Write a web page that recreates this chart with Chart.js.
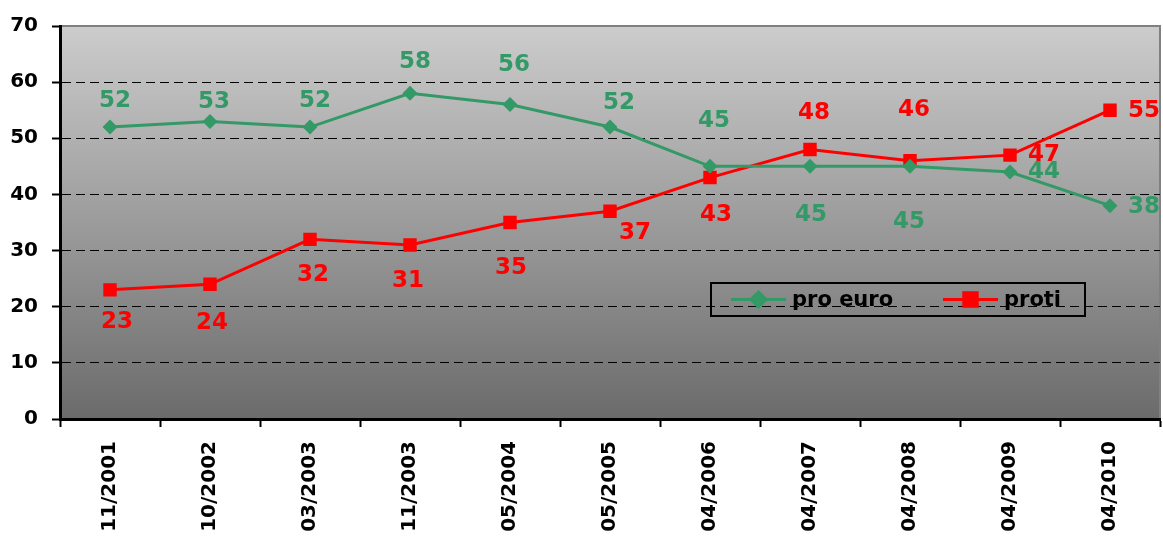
<!DOCTYPE html>
<html>
<head>
<meta charset="utf-8">
<script src="https://cdn.jsdelivr.net/npm/chart.js@4/dist/chart.umd.min.js"></script>
<style>
  html, body { margin: 0; padding: 0; background: #fff; }
  canvas { display: block; }
</style>
</head>
<body>
<canvas id="chart" width="1163" height="541"></canvas>
<script>
"use strict";

var categories = ["11/2001", "10/2002", "03/2003", "11/2003", "05/2004", "05/2005",
  "04/2006", "04/2007", "04/2008", "04/2009", "04/2010"];
var proEuro = [52, 53, 52, 58, 56, 52, 45, 45, 45, 44, 38];
var proti = [23, 24, 32, 31, 35, 37, 43, 48, 46, 47, 55];
var yTicks = [0, 10, 20, 30, 40, 50, 60, 70];

// where each value label sits relative to its point (dx, dy in px)
var proEuroLabelShift = [[5, -26], [4, -19], [5, -26], [5, -31], [4, -40], [9, -24],
  [4, -45], [1, 49], [-1, 56], [34, 0], [34, 1]];
var protiLabelShift = [[7, 32], [2, 39], [3, 36], [-2, 36], [1, 46], [25, 22],
  [6, 37], [4, -36], [4, -51], [34, 0], [34, 1]];

var FONT = "'DejaVu Sans', Verdana, sans-serif";
var GREEN = "#339966";
var RED = "#ff0000";

/**
 * Gradient plot area with grey frame on top / right
 */
var plotBackground = {
  id: "plotBackground",
  beforeDraw: function (chart) {
    var a = chart.chartArea;
    var ctx = chart.ctx;
    var g = ctx.createLinearGradient(0, a.top, 0, a.bottom);
    g.addColorStop(0, "#cccccc");
    g.addColorStop(1, "#6b6b6b");
    ctx.save();
    ctx.fillStyle = g;
    ctx.fillRect(a.left, a.top, a.right - a.left, a.bottom - a.top);
    ctx.strokeStyle = "#808080";
    ctx.lineWidth = 2;
    ctx.beginPath();
    ctx.moveTo(a.left, a.top);
    ctx.lineTo(a.right, a.top);
    ctx.lineTo(a.right, a.bottom);
    ctx.stroke();
    ctx.restore();
  },
};

/**
 * Value labels next to the points
 */
var valueLabels = {
  id: "valueLabels",
  afterDatasetsDraw: function (chart) {
    var ctx = chart.ctx;
    ctx.save();
    ctx.font = "bold 23px " + FONT;
    ctx.textAlign = "center";
    ctx.textBaseline = "middle";
    chart.data.datasets.forEach(function (ds, i) {
      var meta = chart.getDatasetMeta(i);
      ctx.fillStyle = ds.borderColor;
      meta.data.forEach(function (pt, j) {
        var s = ds.labelShift[j];
        ctx.fillText(String(ds.data[j]), pt.x + s[0], pt.y + s[1]);
      });
    });
    ctx.restore();
  },
};

/**
 * Boxed legend inside the plot area
 */
var boxLegend = {
  id: "boxLegend",
  afterDraw: function (chart) {
    var a = chart.chartArea;
    var ctx = chart.ctx;
    var x0 = a.left + 651, y0 = a.top + 257, w = 374, h = 33;
    ctx.save();
    ctx.strokeStyle = "#000";
    ctx.lineWidth = 2;
    ctx.strokeRect(x0, y0, w, h);
    ctx.font = "bold 21px " + FONT;
    ctx.textBaseline = "middle";
    ctx.textAlign = "left";
    var cy = y0 + h / 2;
    var starts = [x0 + 20, x0 + 232];
    chart.data.datasets.forEach(function (ds, i) {
      var sx = starts[i];
      ctx.strokeStyle = ds.borderColor;
      ctx.lineWidth = 3;
      ctx.beginPath();
      ctx.moveTo(sx, cy);
      ctx.lineTo(sx + 55, cy);
      ctx.stroke();
      Chart.helpers.drawPoint(ctx, {
        pointStyle: ds.pointStyle,
        radius: ds.pointRadius,
        borderWidth: 1,
        rotation: 0,
      }, sx + 27.5, cy);
      ctx.fillStyle = ds.borderColor;
      ctx.fill();
      ctx.fillStyle = "#000";
      ctx.fillText(ds.label, sx + 61, cy + 1);
    });
    ctx.restore();
  },
};

var ctx = document.getElementById("chart").getContext("2d");
var chart = new Chart(ctx, {
  type: "line",
  data: {
    labels: categories,
    datasets: [
      {
        label: "pro euro",
        data: proEuro,
        labelShift: proEuroLabelShift,
        borderColor: GREEN,
        backgroundColor: GREEN,
        borderWidth: 3,
        pointStyle: "rectRot",
        pointRadius: 7.5,
        pointBorderWidth: 0,
        tension: 0,
        fill: false,
      },
      {
        label: "proti",
        data: proti,
        labelShift: protiLabelShift,
        borderColor: RED,
        backgroundColor: RED,
        borderWidth: 3,
        pointStyle: "rect",
        pointRadius: 9.5,
        pointBorderWidth: 0,
        tension: 0,
        fill: false,
      },
    ],
  },
  options: {
    responsive: false,
    animation: false,
    layout: { autoPadding: false, padding: { top: 26, right: 3, left: 0, bottom: 0 } },
    plugins: {
      legend: { display: false },
      tooltip: { enabled: false },
    },
    scales: {
      x: {
        type: "category",
        offset: true,
        afterFit: function (scale) {
          scale.height = 122;
          scale.paddingLeft = 0;
          scale.paddingRight = 0;
        },
        border: { color: "#000", width: 3 },
        grid: {
          offset: true,
          drawOnChartArea: false,
          drawTicks: true,
          tickLength: 8,
          tickColor: "#000",
          tickWidth: 2,
        },
        ticks: {
          autoSkip: false,
          minRotation: 90,
          maxRotation: 90,
          padding: 14,
          color: "#000",
          font: { family: FONT, size: 20, weight: "bold" },
        },
      },
      y: {
        min: 0,
        max: 70,
        afterFit: function (scale) { scale.width = 60; },
        afterBuildTicks: function (scale) {
          scale.ticks = yTicks.map(function (v) { return { value: v }; });
        },
        border: { color: "#000", width: 3, dash: [9, 5] },
        grid: {
          color: function (c) {
            var v = c.tick ? c.tick.value : null;
            return v === 0 || v === 70 ? "rgba(0,0,0,0)" : "#000";
          },
          lineWidth: 1,
          tickLength: 8,
          tickColor: "#000",
          tickWidth: 2,
          tickBorderDash: [],
        },
        ticks: {
          padding: 14,
          color: "#000",
          font: { family: FONT, size: 20, weight: "bold" },
        },
      },
    },
  },
  plugins: [plotBackground, valueLabels, boxLegend],
});
</script>
</body>
</html>
